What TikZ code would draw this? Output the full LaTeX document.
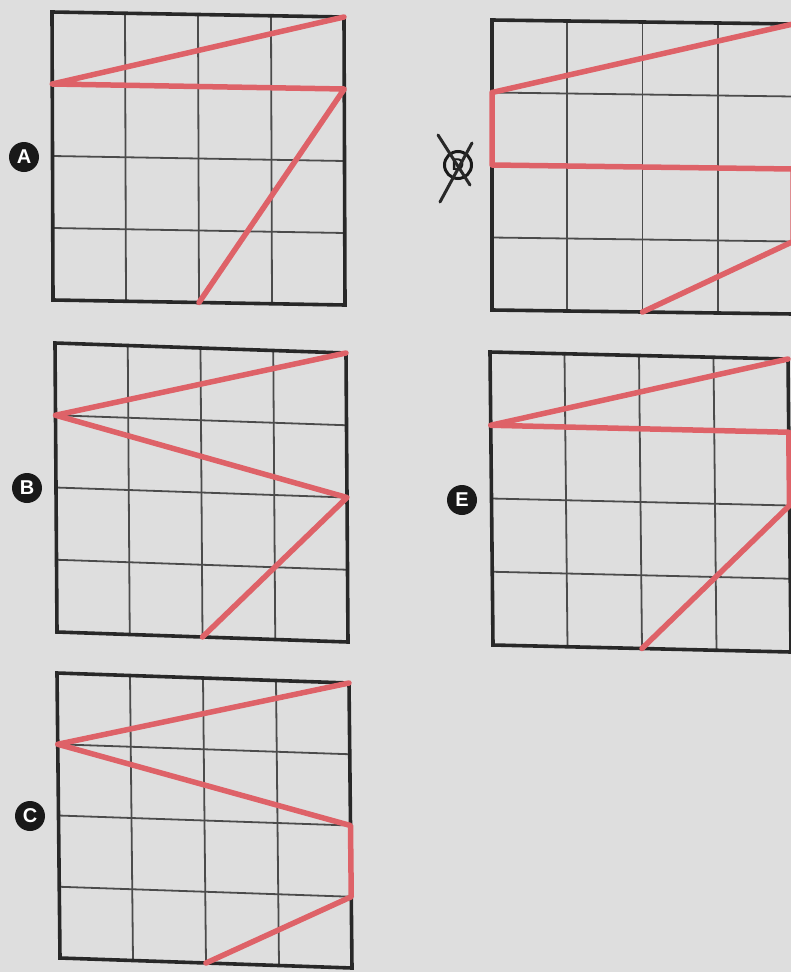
\documentclass[tikz,border=0pt]{standalone}
\usepackage{fontspec}
\setmainfont{Liberation Sans}
\begin{document}
\begin{tikzpicture}[x=1pt,y=1pt,
  paper/.style={fill={rgb,255:red,222;green,222;blue,222}},
  gridline/.style={draw={rgb,255:red,75;green,75;blue,75},line width=1.8pt},
  border/.style={draw={rgb,255:red,40;green,40;blue,40},line width=3.6pt,line join=miter},
  redline/.style={draw={rgb,255:red,222;green,98;blue,104},line width=5.5pt,line join=round,line cap=round},
  lab/.style={circle,fill={rgb,255:red,25;green,25;blue,25},text=white,minimum size=30pt,inner sep=0pt,font=\fontsize{20}{20}\selectfont\bfseries},
  labx/.style={circle,draw={rgb,255:red,25;green,25;blue,25},line width=3pt,text={rgb,255:red,25;green,25;blue,25},minimum size=27pt,inner sep=0pt,font=\fontsize{17}{17}\selectfont\bfseries},
  cross/.style={draw={rgb,255:red,40;green,40;blue,40},line width=3pt,line cap=round}]
\path[paper] (0,-972) rectangle (791,0);
\useasboundingbox (0,-972) rectangle (791,0);
\clip (0,-972) rectangle (791,0);
\newcommand\mygrid{%
  \foreach \i in {1,2,3} {\draw[gridline] (\i,0) -- (\i,4); \draw[gridline] (0,\i) -- (4,\i);}
  \draw[border] (0,0) -- (4,0) -- (4,4) -- (0,4) -- cycle;}
% Grid A
\begin{scope}[shift={(53,-300)},x={(73pt,-1.25pt)},y={(-0.25pt,72pt)}]
  \mygrid
  \draw[redline] (4,4) -- (0,3) -- (4,3) -- (2,0);
\end{scope}
% Grid B
\begin{scope}[shift={(57,-632)},x={(72.75pt,-2.5pt)},y={(-0.5pt,72.25pt)}]
  \mygrid
  \draw[redline] (4,4) -- (0,3) -- (4,2) -- (2,0);
\end{scope}
% Grid C
\begin{scope}[shift={(60,-958)},x={(73pt,-2.5pt)},y={(-0.75pt,71.25pt)}]
  \mygrid
  \draw[redline] (4,4) -- (0,3) -- (4,2) -- (4,1) -- (2,0);
\end{scope}
% Grid D
\begin{scope}[shift={(492,-310)},x={(75.25pt,-1pt)},y={(0pt,72.5pt)}]
  \mygrid
  \draw[redline] (4,4) -- (0,3) -- (0,2) -- (4,2) -- (4,1) -- (2,0);
\end{scope}
% Grid E
\begin{scope}[shift={(493,-645)},x={(74.5pt,-1.75pt)},y={(-0.75pt,73.25pt)}]
  \mygrid
  \draw[redline] (4,4) -- (0,3) -- (4,3) -- (4,2) -- (2,0);
\end{scope}
% Labels
\node[lab] (la) at (24,-157) {A};
\node[lab] (lb) at (27,-488) {B};
\node[lab] (lc) at (30,-816) {C};
\node[lab] (le) at (462,-500) {E};
\node[labx] (ld) at (458,-165) {D};
\coordinate (c1) at (438,-135);
\coordinate (c2) at (470,-185);
\coordinate (c3) at (472,-143);
\coordinate (c4) at (440,-202);
\draw[cross] (c1) -- (c2);
\draw[cross] (c3) -- (c4);
\end{tikzpicture}
\end{document}
